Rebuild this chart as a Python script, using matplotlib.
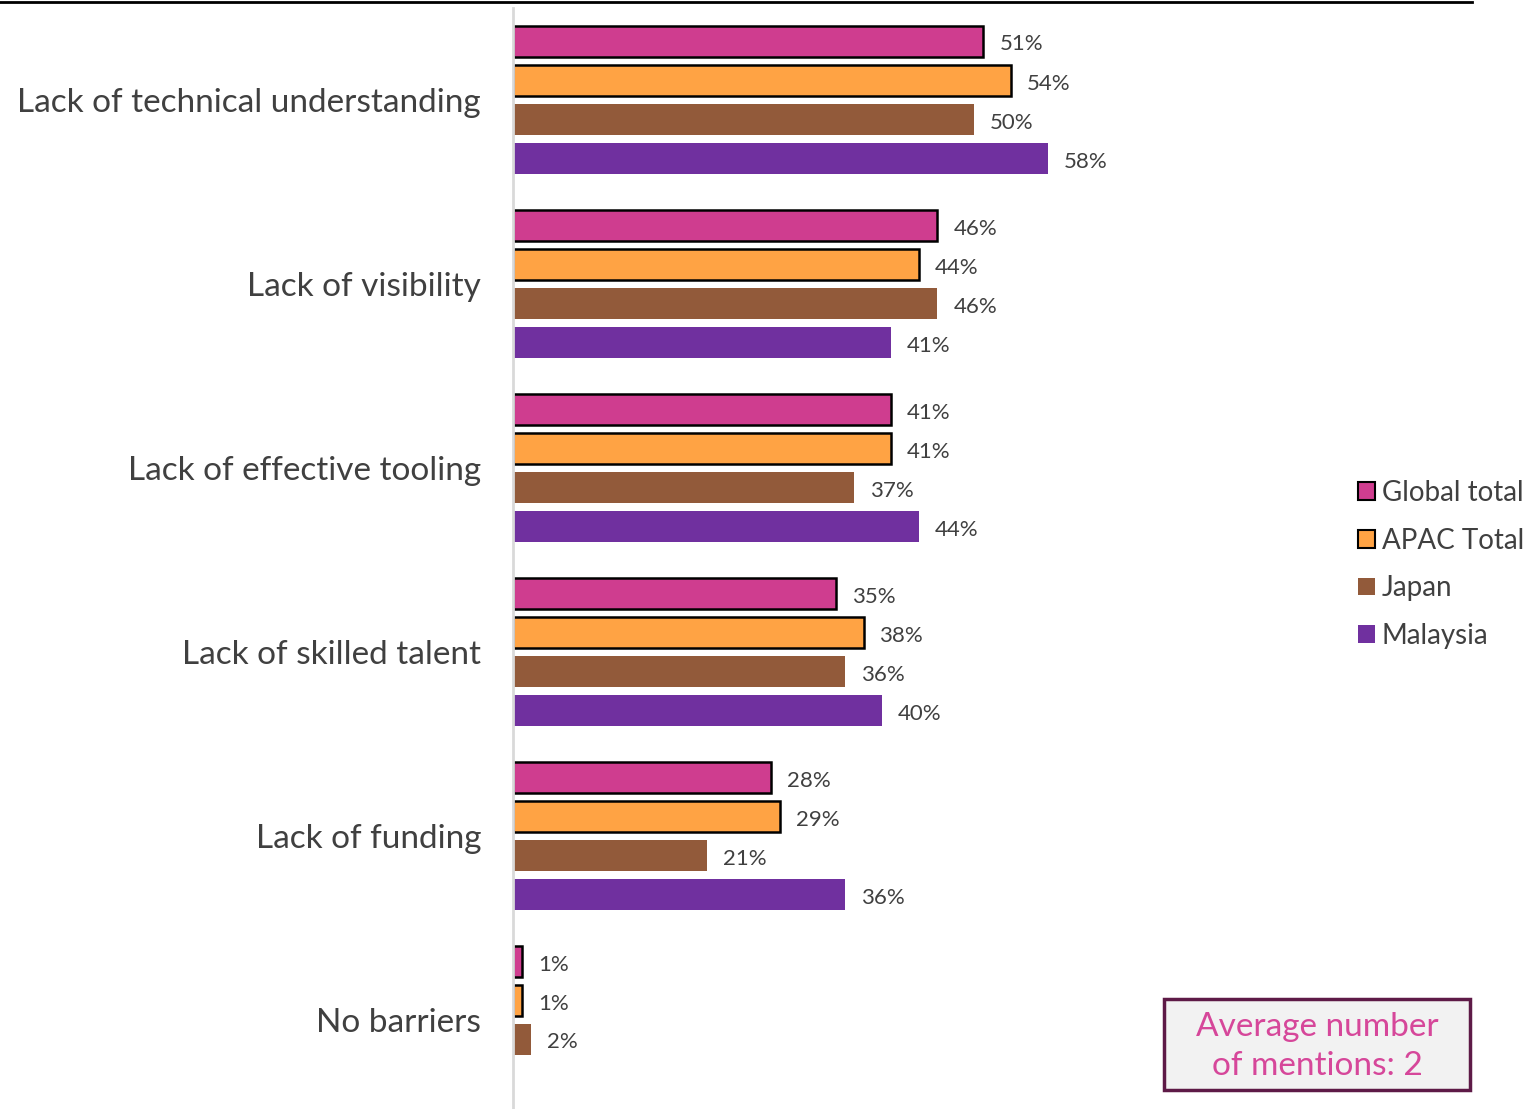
import matplotlib
matplotlib.use("Agg")
import matplotlib.pyplot as plt
from matplotlib.patches import Rectangle
from matplotlib.lines import Line2D

plt.rcParams['font.family'] = ['Lato', 'DejaVu Sans']

categories = ["Lack of technical understanding", "Lack of visibility",
              "Lack of effective tooling", "Lack of skilled talent",
              "Lack of funding", "No barriers"]
series_names = ["Global total", "APAC Total", "Japan", "Malaysia"]
global_total = [51, 46, 41, 35, 28, 1]
apac_total = [54, 44, 41, 38, 29, 1]
japan = [50, 46, 37, 36, 21, 2]
malaysia = [58, 41, 44, 40, 36, None]

colors = ["#CF3D8F", "#FFA344", "#925A3A", "#70309F"]
edges = ["black", "black", None, None]

W, H = 1534, 1109
fig = plt.figure(figsize=(W / 100, H / 100), dpi=100)

# axes placement in pixels
ax_left, ax_right = 513, 1330
ax_top, ax_bottom = 8, 1112
ax = fig.add_axes([ax_left / W, 1 - ax_bottom / H, (ax_right - ax_left) / W,
                   (ax_bottom - ax_top) / H])
px_per_unit = 9.224
ax.set_xlim(0, (ax_right - ax_left) / px_per_unit)
ax.set_ylim(len(categories) - 0.5, -0.5)

step = 39 / 184
bar_h = 31 / 184
all_series = [global_total, apac_total, japan, malaysia]
for si, vals in enumerate(all_series):
    for ci, v in enumerate(vals):
        if v is None:
            continue
        y = ci + (si - 1.5) * step
        kw = dict(color=colors[si], height=bar_h)
        if edges[si]:
            kw.update(edgecolor=edges[si], linewidth=1.8)
        else:
            kw.update(linewidth=0)
        ax.barh(y, v, **kw)
        ax.annotate(f"{v}%", (v, y), xytext=(16, -1), textcoords="offset pixels",
                    va="center_baseline", ha="left", fontsize=16,
                    color="#404040")

for s in ["top", "right", "bottom"]:
    ax.spines[s].set_visible(False)
ax.spines["left"].set_color("#D9D9D9")
ax.spines["left"].set_linewidth(2)
ax.set_xticks([])
ax.set_yticks(range(len(categories)))
ax.set_yticklabels(categories, fontsize=24, color="#404040")
ax.tick_params(axis="y", length=0, pad=23)

# top rule
fig.add_artist(Line2D([0, 1472 / W], [1 - 1.5 / H, 1 - 1.5 / H],
                      color="black", linewidth=2))

# legend
handles = []
for si, name in enumerate(series_names):
    handles.append(Rectangle((0, 0), 1, 1, facecolor=colors[si],
                             edgecolor=edges[si] if edges[si] else colors[si],
                             linewidth=1.5 if edges[si] else 0))
leg = fig.legend(handles, series_names, loc="upper left",
                 bbox_to_anchor=(1333 / W, 1 - 455 / H), frameon=False,
                 fontsize=20, handlelength=0.6, handleheight=0.6,
                 handletextpad=0.25, labelspacing=0.78, labelcolor="#404040")

# note box
bx0, bx1, by0, by1 = 1164, 1470, 999, 1090
fig.add_artist(Rectangle((bx0 / W, 1 - by1 / H), (bx1 - bx0) / W,
                         (by1 - by0) / H, facecolor="#F2F2F2",
                         edgecolor="#5E1A47", linewidth=2.5,
                         transform=fig.transFigure))
fig.text((bx0 + bx1) / 2 / W, 1 - ((by0 + by1) / 2 + 2) / H,
         "Average number\nof mentions: 2", ha="center", va="center",
         fontsize=24, color="#D6479A", linespacing=1.4)

fig.savefig("out.png", dpi=100)
